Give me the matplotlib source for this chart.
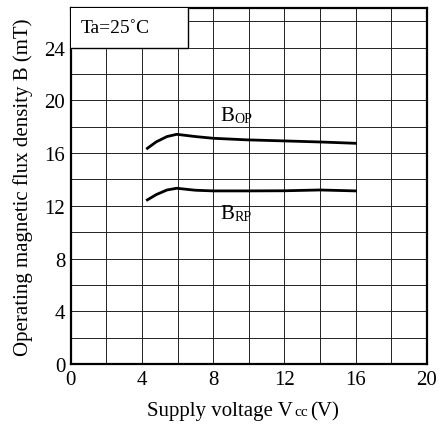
import matplotlib
matplotlib.use("Agg")
import matplotlib.pyplot as plt
import numpy as np

plt.rcParams['font.family'] = ['Liberation Serif', 'DejaVu Serif']

# Data
vcc = [4.3, 4.8, 5.4, 5.95, 7.0, 8.0, 9.9, 12.0, 14.0, 16.0]
b_op = [16.36, 16.85, 17.25, 17.42, 17.25, 17.12, 17.0, 16.92, 16.84, 16.74]
b_rp = [12.45, 12.85, 13.2, 13.33, 13.18, 13.13, 13.13, 13.14, 13.2, 13.13]

x_ticks = [0, 4, 8, 12, 16, 20]
y_ticks = [0, 4, 8, 12, 16, 20, 24]

fig = plt.figure(figsize=(4.4, 4.27), dpi=100)
ax = fig.add_axes([0.161, 0.145, 0.809, 0.834])
ax.set_xlim(0, 20)
ax.set_ylim(0, 27)

# grid every 2 units
for gx in np.arange(2, 20, 2):
    ax.axvline(gx, color='#222222', lw=0.7, zorder=1)
for gy in np.arange(2, 27, 2):
    ax.axhline(gy, color='#222222', lw=0.7, zorder=1)

ax.plot(vcc, b_op, color='black', lw=2.0, zorder=3)
ax.plot(vcc, b_rp, color='black', lw=2.0, zorder=3)

ax.set_xticks(x_ticks)
ax.set_yticks(y_ticks)
ax.tick_params(length=0, labelsize=15, pad=4)
for s in ax.spines.values():
    s.set_linewidth(1.6)

# condition box
ax.fill_between([0, 6.6], 24, 27, color='white', zorder=4)
ax.plot([6.6, 6.6, 0], [27, 24, 24], color='black', lw=1.0, zorder=5)
ax.text(0.55, 25.5, "Ta=25\u02daC", fontsize=14, va='center', ha='left', zorder=6)

# series labels
t1 = ax.text(8.4, 18.5, "B", fontsize=15, va='baseline', ha='left', zorder=6)
ax.annotate("OP", xy=(1, 0), xycoords=t1, fontsize=10, va='bottom', ha='left',
            zorder=6)
t2 = ax.text(8.4, 11.1, "B", fontsize=15, va='baseline', ha='left', zorder=6)
ax.annotate("RP", xy=(1, 0), xycoords=t2, fontsize=10, va='bottom', ha='left',
            zorder=6)

# axis labels
ax.set_ylabel("Operating magnetic flux density B (mT)", fontsize=15, labelpad=8)
xl1 = fig.text(0.335, 0.025, "Supply voltage V", fontsize=15, va='baseline', ha='left')
xl2 = fig.text(0, 0, "cc", fontsize=11, va='baseline', ha='left')
fig.canvas.draw()
bb = xl1.get_window_extent()
inv = fig.transFigure.inverted()
x_end = inv.transform((bb.x1, bb.y0))[0]
xl2.set_position((x_end + 0.002, 0.025))
fig.canvas.draw()
bb2 = xl2.get_window_extent()
x_end2 = inv.transform((bb2.x1, bb2.y0))[0]
fig.text(x_end2 + 0.005, 0.025, "(V)", fontsize=15, va='baseline', ha='left')

fig.savefig("out.png", dpi=100)
